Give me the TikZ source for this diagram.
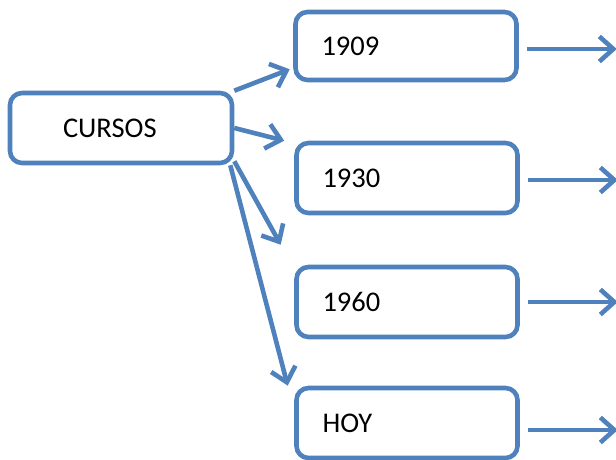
\documentclass[tikz,border=0pt]{standalone}
\usepackage{fontspec}
\setmainfont{Carlito}
\usetikzlibrary{arrows.meta,calc}
\definecolor{blu}{RGB}{79,129,189}
\begin{document}
\begin{tikzpicture}[x=1pt,y=-1pt,
  box/.style={draw=blu,line width=4.6pt,rounded corners=12pt,minimum height=70pt,inner ysep=0pt,align=left,font=\fontsize{28.5}{32}\selectfont,fill=white},
  rbox/.style={box,inner xsep=26pt,text width=169pt},
  conn/.style={draw=blu,line width=4.6pt,-{Straight Barb[length=14pt,width=25pt]}}
]
\useasboundingbox (0,0) rectangle (616,460);
\node[box,inner xsep=53pt,text width=116pt] (cursos) at (121,128) {CURSOS};
\node[rbox,minimum height=68pt] (y1909) at (406,46) {1909};
\node[rbox] (y1930) at (407,178) {1930};
\node[rbox] (y1960) at (407,302) {1960};
\node[rbox] (yhoy) at (407,423) {HOY};
\draw[conn] (cursos.north east) -- ($(y1909.south west)+(-3.5,-13)$);
\draw[conn] (cursos.east) -- ($(y1930.north west)+(-10,0)$);
\draw[conn] ($(cursos.south east)+(0,-4)$) -- ($(y1960.north west)+(-13.5,-20)$);
\draw[conn] ($(cursos.south east)+(-4,0)$) -- ($(yhoy.north west)+(-6.5,0)$);
\draw[conn] ($(y1909.east)+(8,3)$) -- ($(y1909.east)+(98,3)$);
\draw[conn] ($(y1930.east)+(8,2)$) -- ($(y1930.east)+(98,2)$);
\draw[conn] ($(y1960.east)+(8,0)$) -- ($(y1960.east)+(98,0)$);
\draw[conn] ($(yhoy.east)+(8,7)$) -- ($(yhoy.east)+(98,7)$);
\end{tikzpicture}
\end{document}
